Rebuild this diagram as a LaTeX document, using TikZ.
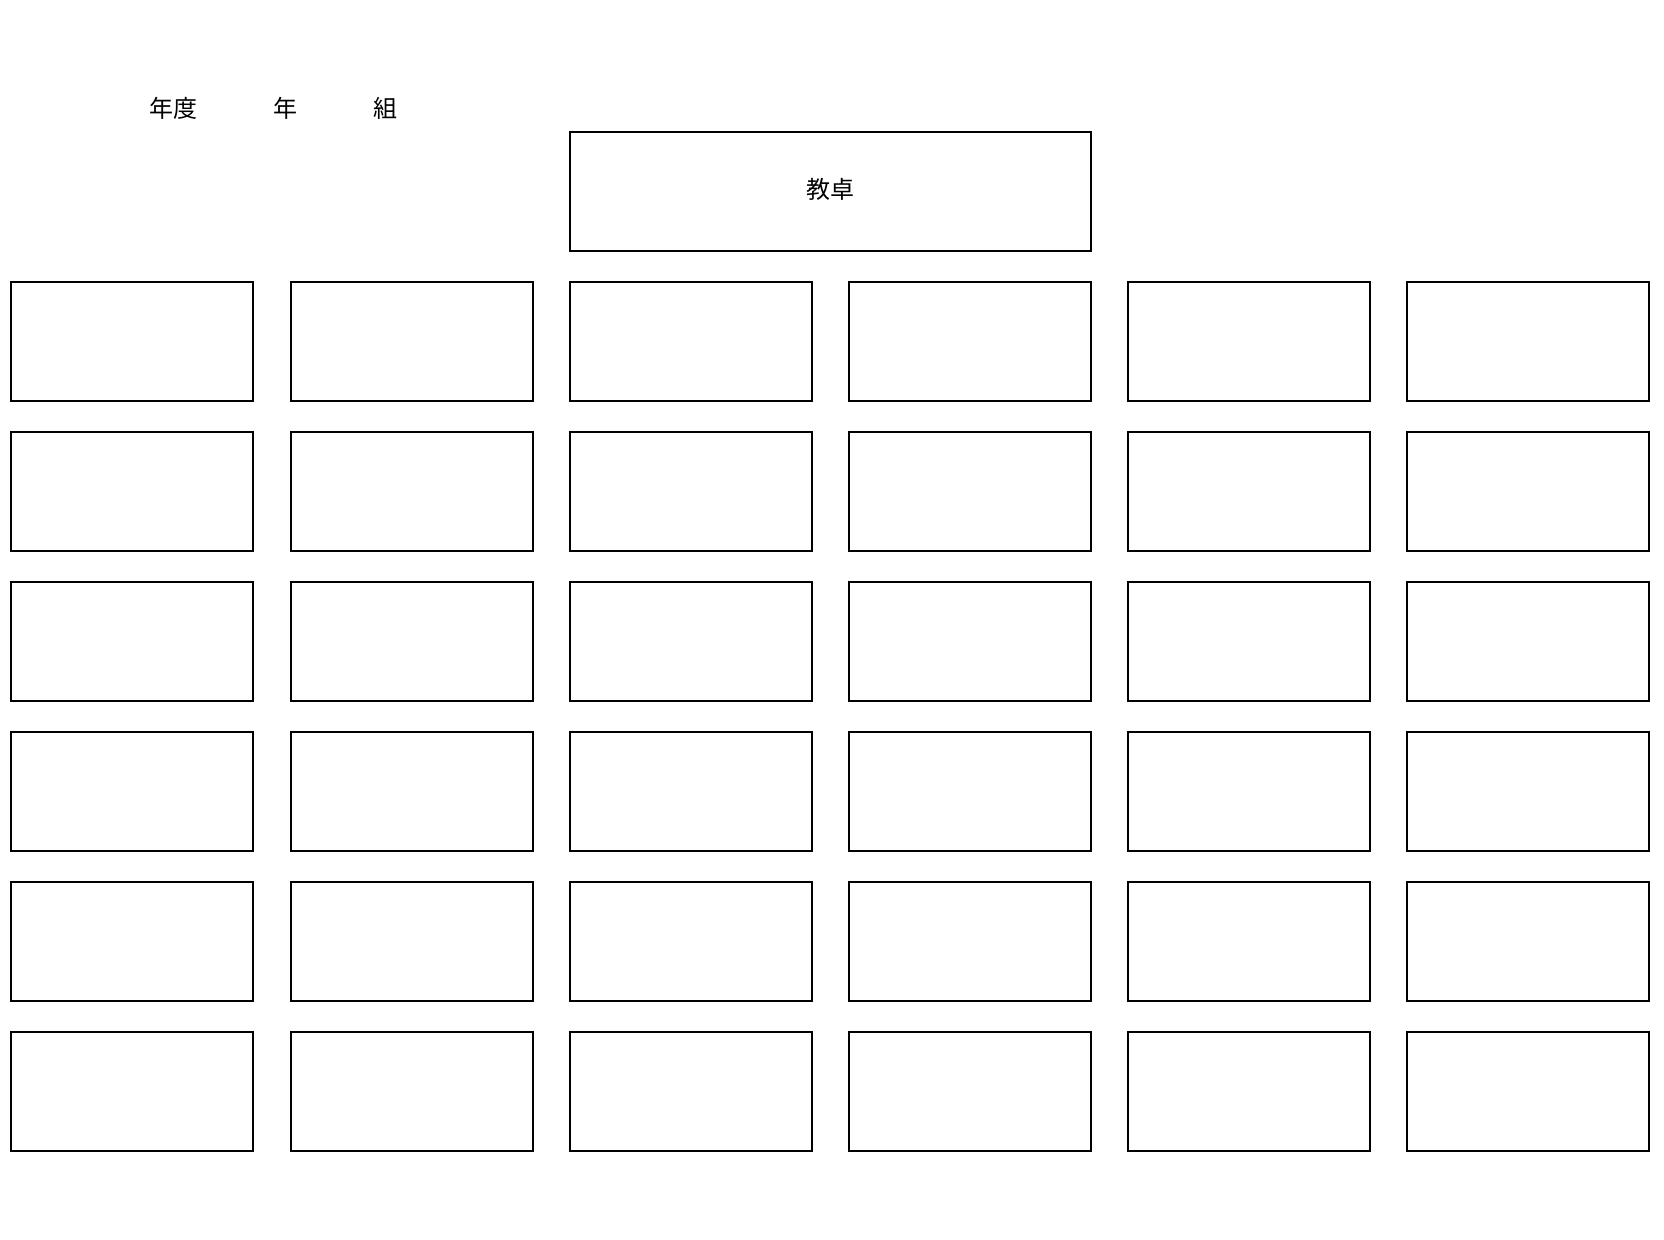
\documentclass[tikz,border=0pt]{standalone}
\usepackage{fontspec}
\setmainfont{Noto Sans CJK JP}
\begin{document}
\begin{tikzpicture}[x=0.5pt,y=-0.5pt,
  desk/.style={draw=black,line width=1pt,rectangle,inner sep=0pt,outer sep=0pt,
    minimum width=121pt,minimum height=59.5pt,anchor=north west},
  lbl/.style={font=\fontsize{12pt}{14pt}\selectfont,inner sep=0pt}]
\useasboundingbox (0,0) rectangle (1664,1240);
\fill[white] (0,0) rectangle (1664,1240);
\node[lbl] (nendo) at (173.5,108) {年度};
\node[lbl] (nen) at (285,108) {年};
\node[lbl] (kumi) at (385,108) {組};
\node[desk,minimum width=260.5pt] (kyotaku) at (570,132) {};
\node[lbl] at ([yshift=1pt]kyotaku.center) {教卓};
\foreach \r in {0,...,5}{
  \foreach \c in {0,...,5}{
    \node[desk] (d-\r-\c) at ({11.3+279.2*\c},{282.0+150*\r}) {};
  }
}
\end{tikzpicture}
\end{document}
